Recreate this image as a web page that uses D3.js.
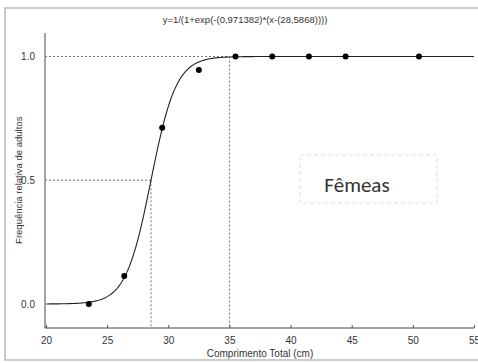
<!DOCTYPE html>
<html>
<head>
<meta charset="utf-8">
<script src="https://cdn.jsdelivr.net/npm/d3@7"></script>
<style>
  body { margin: 0; background: #fff; }
  svg text { font-family: "Liberation Sans", Arial, sans-serif; fill: #333; }
</style>
</head>
<body>
<svg id="chart" width="478" height="363"></svg>
<script>
// observed points (comprimento, frequencia)
const lengths = [23.5, 26.4, 29.5, 32.5, 35.5, 38.5, 41.5, 44.5, 50.5];
const freqs = [0.0, 0.113, 0.712, 0.945, 1.0, 1.0, 1.0, 1.0, 1.0];
const xTicks = [20, 25, 30, 35, 40, 45, 50, 55];
const yTicks = [0.0, 0.5, 1.0];
// fitted logistic
const slope = 0.971382;
const l50 = 28.5868;
const lMax = 35; // length where curve reaches ~1

const title = 'y=1/(1+exp(-(0,971382)*(x-(28,5868))))';

const svg = d3.select('#chart');

const x = d3.scaleLinear().domain([20, 55]).range([46, 474]);
const y = d3.scaleLinear().domain([0, 1]).range([304, 56.5]);

// outer frame
svg.append('rect')
  .attr('x', 5).attr('y', 8)
  .attr('width', 480).attr('height', 352)
  .attr('fill', 'none')
  .attr('stroke', '#bbb')
  .attr('stroke-width', 1.5);

svg.append('text')
  .attr('x', 245).attr('y', 23)
  .attr('text-anchor', 'middle')
  .attr('font-size', 9.5)
  .text(title);

// axes
const gx = svg.append('g')
  .attr('transform', 'translate(0,328)')
  .call(d3.axisBottom(x).tickValues(xTicks).tickSize(-3).tickPadding(9).tickFormat(d3.format('d')));
const gy = svg.append('g')
  .attr('transform', 'translate(45,0)')
  .call(d3.axisLeft(y).tickValues(yTicks).tickSize(0).tickPadding(10).tickFormat(d3.format('.1f')));

[gx, gy].forEach(g => {
  g.select('.domain').remove();
  g.selectAll('text').attr('font-size', 10).attr('fill', '#333').style('font-family', '"Liberation Sans", Arial, sans-serif');
  g.selectAll('line').attr('stroke', '#555');
});

svg.append('line')
  .attr('x1', 45).attr('x2', 45).attr('y1', 33).attr('y2', 328)
  .attr('stroke', '#444');
svg.append('line')
  .attr('x1', 45).attr('x2', x(55)).attr('y1', 328).attr('y2', 328)
  .attr('stroke', '#444');

svg.append('text')
  .attr('x', x(37.5)).attr('y', 357)
  .attr('text-anchor', 'middle')
  .attr('font-size', 10)
  .text('Comprimento Total (cm)');

svg.append('text')
  .attr('transform', `translate(22,${y(0.5)}) rotate(-90)`)
  .attr('text-anchor', 'middle')
  .attr('font-size', 9.5)
  .text('Frequência relativa de adultos');

// dotted guides
const guide = (x1, y1, x2, y2) => svg.append('line')
  .attr('x1', x1).attr('y1', y1).attr('x2', x2).attr('y2', y2)
  .attr('stroke', '#777')
  .attr('stroke-width', 1)
  .attr('stroke-dasharray', '2,2');

guide(45, y(0.5), x(l50), y(0.5));
guide(x(l50), y(0.5), x(l50), 328);
guide(45, y(1), x(lMax), y(1));
guide(x(lMax), y(1), x(lMax), 328);

// curve
const curveData = d3.range(20, 55.01, 0.1).map(v => [v, 1 / (1 + Math.exp(-slope * (v - l50)))]);
svg.append('path')
  .datum(curveData)
  .attr('d', d3.line().x(d => x(d[0])).y(d => y(d[1])))
  .attr('fill', 'none')
  .attr('stroke', '#222')
  .attr('stroke-width', 1.1);

svg.selectAll('circle.pt')
  .data(lengths.map((l, i) => ({ l, f: freqs[i] })))
  .join('circle')
  .attr('class', 'pt')
  .attr('cx', d => x(d.l))
  .attr('cy', d => y(d.f))
  .attr('r', 3)
  .attr('fill', '#000');

// label box
svg.append('rect')
  .attr('x', 300).attr('y', 155)
  .attr('width', 137).attr('height', 48)
  .attr('fill', 'none')
  .attr('stroke', '#ddd')
  .attr('stroke-dasharray', '4,3');

svg.append('text')
  .attr('x', 357).attr('y', 192)
  .attr('text-anchor', 'middle')
  .attr('font-size', 21)
  .style('font-family', 'Carlito, "Open Sans", "Noto Sans", sans-serif')
  .attr('fill', '#111')
  .text('Fêmeas');
</script>
</body>
</html>
